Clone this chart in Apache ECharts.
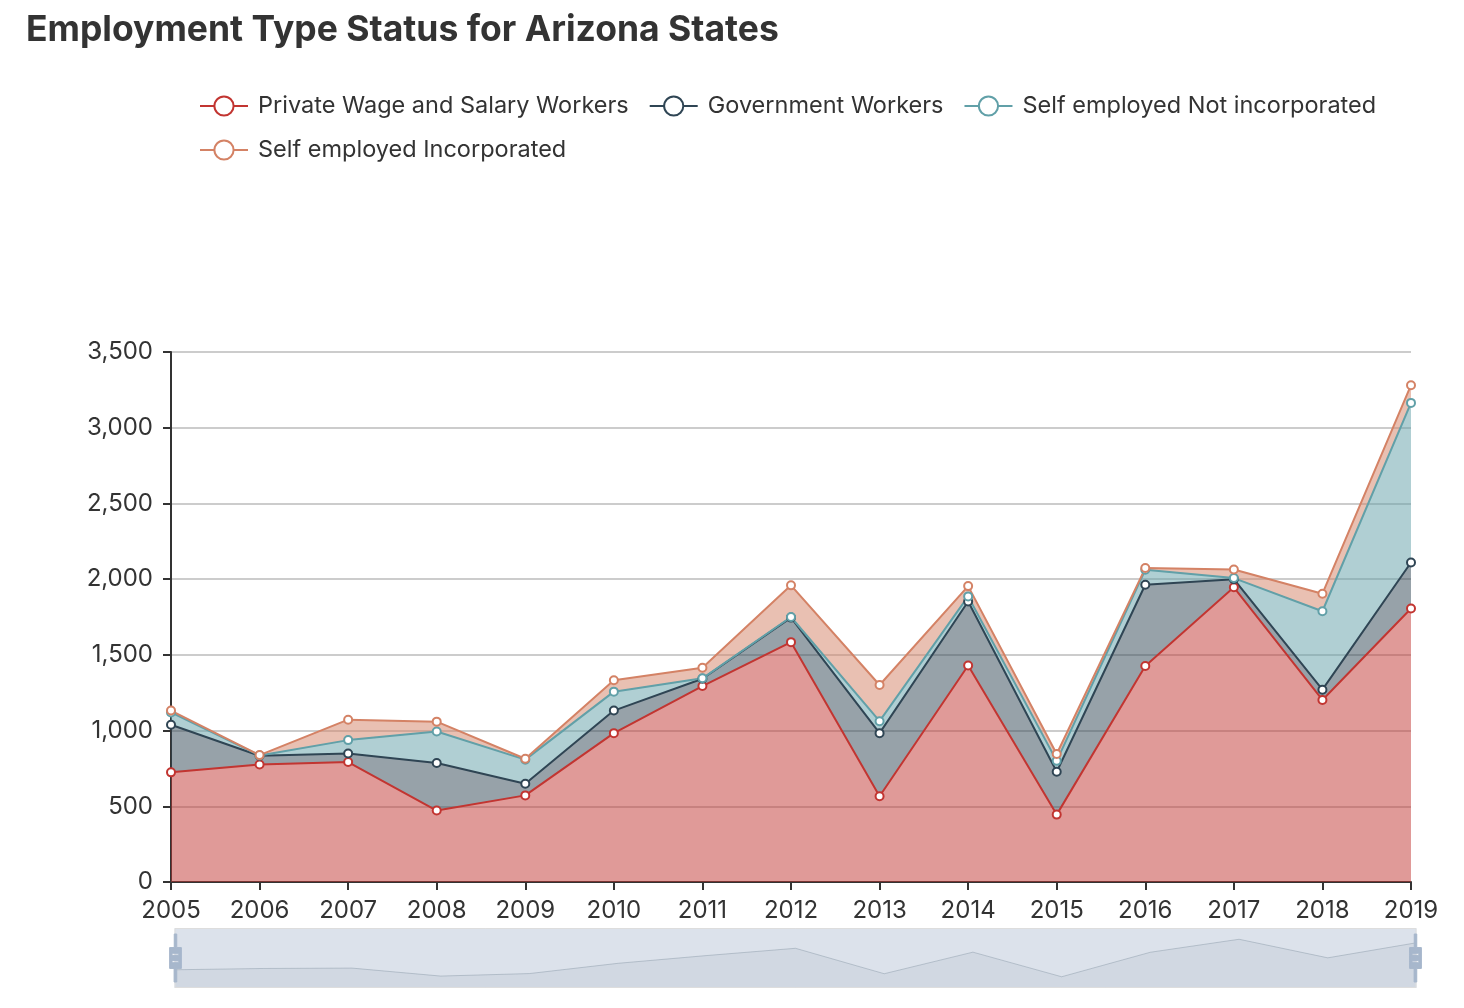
<!DOCTYPE html>
<html>
<head>
<meta charset="utf-8">
<script src="https://cdn.jsdelivr.net/npm/echarts@6/dist/echarts.min.js"></script>
<style>
html,body{margin:0;padding:0;background:#fff;}
#main{width:1464px;height:1008px;}
</style>
</head>
<body>
<div id="main"></div>
<script>
var years = ['2005','2006','2007','2008','2009','2010','2011','2012','2013','2014','2015','2016','2017','2018','2019'];
var seriesNames = ['Private Wage and Salary Workers','Government Workers','Self employed Not incorporated','Self employed Incorporated'];
var privateWage = [724, 776, 792, 472, 572, 983, 1294, 1584, 566, 1430, 445, 1426, 1946, 1202, 1806];
var government = [314, 58, 57, 314, 77, 149, 48, 162, 417, 422, 283, 537, 54, 68, 304];
var selfNotInc = [82, 2, 88, 208, 159, 125, 3, 4, 79, 34, 72, 99, 7, 518, 1054];
var selfInc = [12, 2, 135, 65, 6, 75, 70, 209, 239, 68, 45, 11, 57, 116, 117];
var colors = ['#c23531','#2f4554','#61a0a8','#d48265'];
var FONT = 'Inter';

var chart = echarts.init(document.getElementById('main'));
var dataArrays = [privateWage, government, selfNotInc, selfInc];
var series = dataArrays.map(function(d, i){
  return {
    name: seriesNames[i],
    type: 'line',
    stack: 'total',
    data: d,
    symbol: 'emptyCircle',
    symbolSize: 8,
    lineStyle: {width: 2, color: colors[i]},
    itemStyle: {color: colors[i], borderWidth: 2},
    areaStyle: {color: colors[i], opacity: 0.5}
  };
});
chart.setOption({
  animation: false,
  color: colors,
  textStyle: {fontFamily: FONT},
  title: {
    text: 'Employment Type Status for Arizona States',
    left: 21, top: 7,
    textStyle: {fontSize: 35.5, fontWeight: 'bold', color: '#333', fontFamily: FONT}
  },
  legend: {
    left: 194, top: 89, width: 1240,
    itemWidth: 48, itemHeight: 24, itemGap: 20,
    textStyle: {fontSize: 23.5, color: '#333', fontFamily: FONT, padding: [0, 0, 0, 5]},
    data: seriesNames
  },
  tooltip: {trigger: 'axis'},
  grid: {left: 171, right: 53, top: 352, bottom: 126, containLabel: false},
  xAxis: {
    type: 'category',
    boundaryGap: false,
    data: years,
    axisLine: {show: true, lineStyle: {color: '#333', width: 2}},
    axisTick: {show: true, lineStyle: {color: '#333', width: 2}, length: 8},
    axisLabel: {fontSize: 24, color: '#333', margin: 17}
  },
  yAxis: {
    type: 'value',
    min: 0, max: 3500, interval: 500,
    axisLine: {show: true, lineStyle: {color: '#333', width: 2}},
    axisTick: {show: true, lineStyle: {color: '#333', width: 2}, length: 8},
    axisLabel: {fontSize: 24, color: '#333', margin: 18},
    splitLine: {show: true, lineStyle: {color: '#ccc', width: 2}}
  },
  dataZoom: [{
    type: 'slider',
    xAxisIndex: 0,
    left: 172, right: 50, top: 928, height: 60,
    backgroundColor: 'rgba(47,69,84,0)',
    borderColor: '#ddd',
    fillerColor: 'rgba(167,183,204,0.4)',
    handleIcon: 'M8.2,13.6V3.9H6.3v9.7H3.1v14.9h3.3v9.7h1.8v-9.7h3.3V13.6H8.2z M9.7,24.4H4.8v-1.4h4.9V24.4z M9.7,19.1H4.8v-1.4h4.9V19.1z',
    handleSize: '80%',
    handleStyle: {color: '#a7b7cc', borderColor: '#a7b7cc'},
    moveHandleSize: 0,
    showDetail: false,
    brushSelect: false,
    dataBackground: {
      lineStyle: {color: '#2f4554', opacity: 0.3, width: 1},
      areaStyle: {color: 'rgba(47,69,84,0.3)', opacity: 0.3}
    },
    selectedDataBackground: {
      lineStyle: {color: '#2f4554', opacity: 0.3, width: 1},
      areaStyle: {color: 'rgba(47,69,84,0.3)', opacity: 0.3}
    }
  }],
  series: series
});
</script>
</body>
</html>
